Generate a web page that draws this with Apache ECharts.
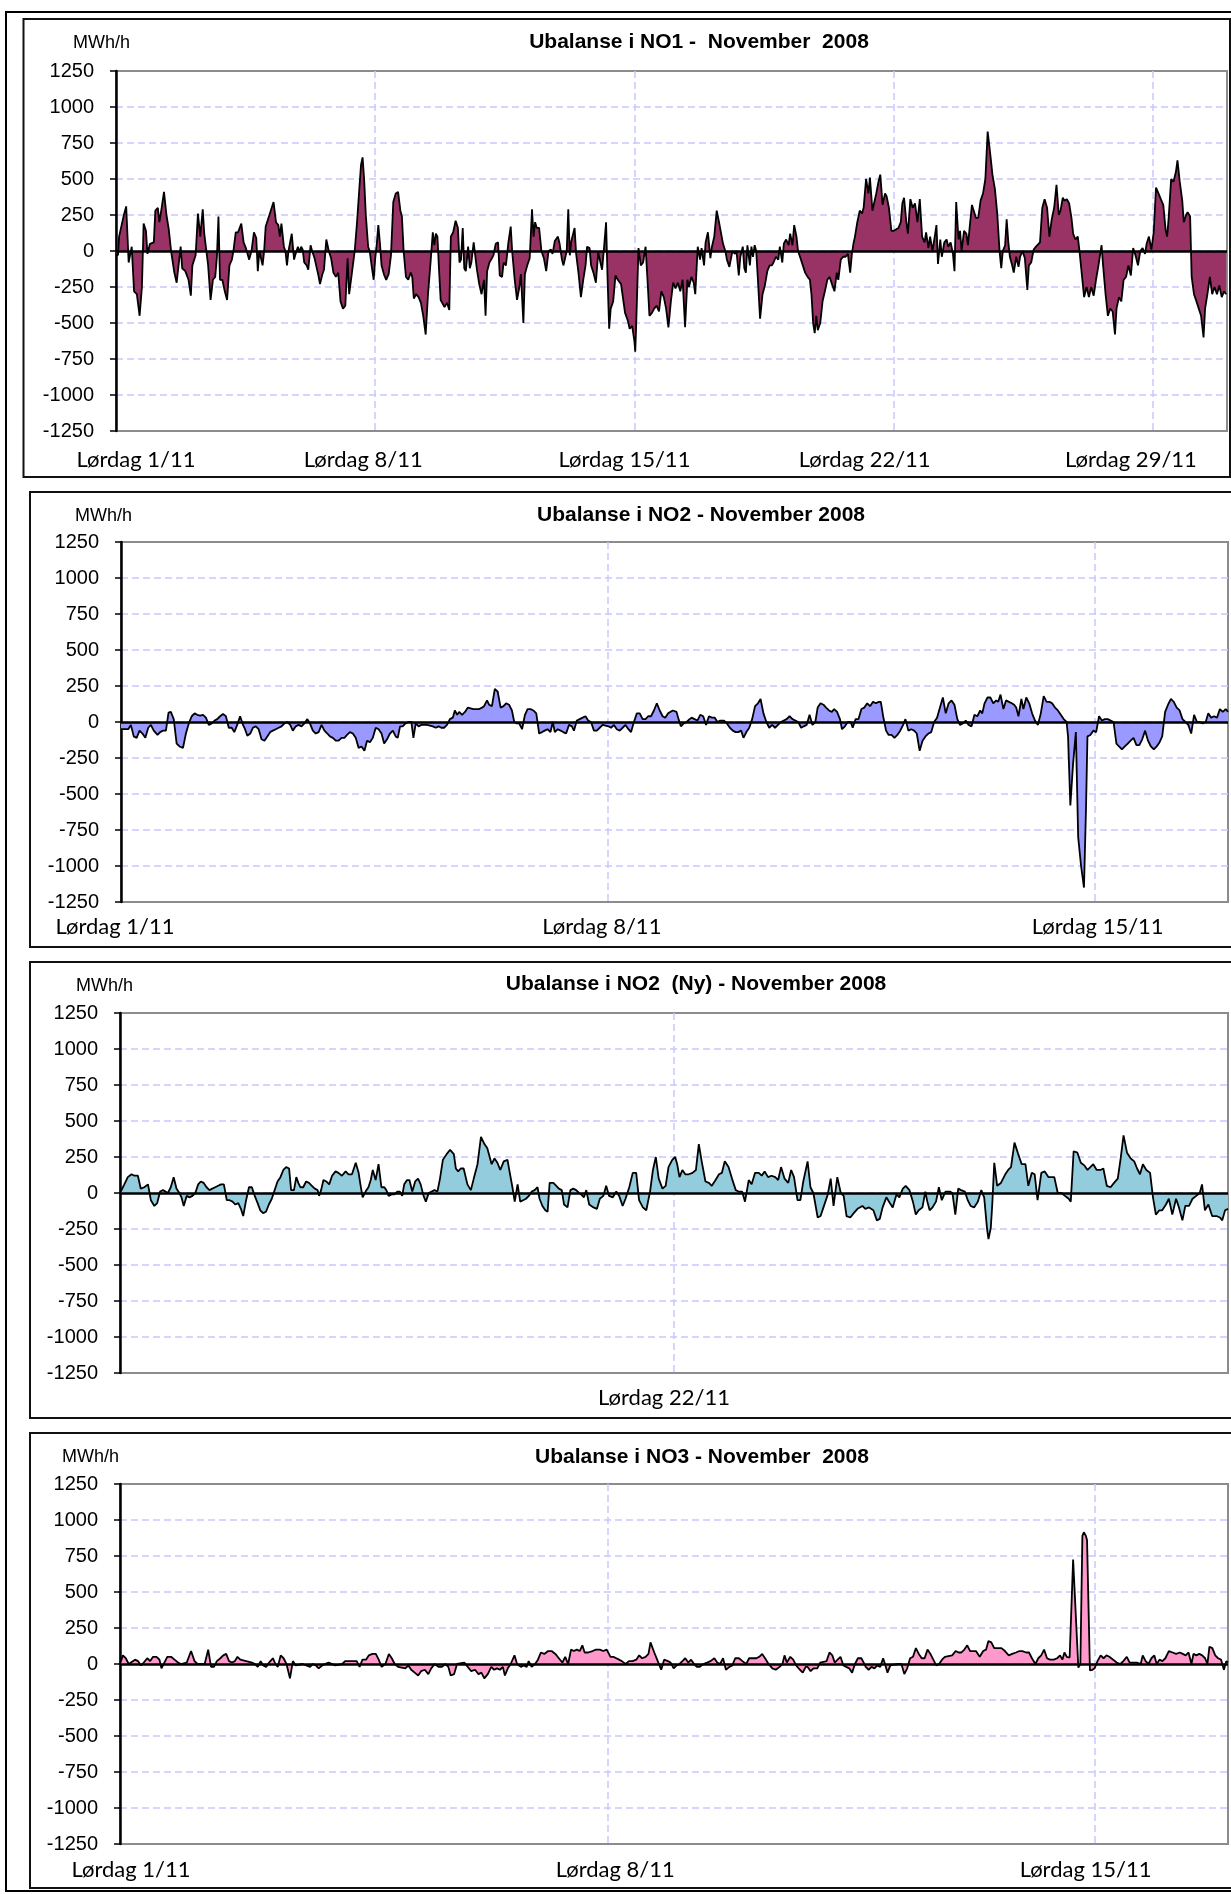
<!DOCTYPE html>
<html><head><meta charset="utf-8">
<script src="https://cdn.jsdelivr.net/npm/echarts@6/dist/echarts.min.js"></script>
<style>html,body{margin:0;padding:0;background:#fff}#c{width:1231px;height:1894px}</style>
</head><body><div id="c"></div>
<script>
// ---------- DATA (hour of period, MWh/h) ----------
const titleTexts = [
  'Ubalanse i NO1 -  November  2008',
  'Ubalanse i NO2 - November 2008',
  'Ubalanse i NO2  (Ny) - November 2008',
  'Ubalanse i NO3 - November  2008'
];
const unitText = 'MWh/h';
const yMin = -1250, yMax = 1250, yStep = 250;

const weekHours1 = [0, 168, 336, 504, 672];
const weekLabels1 = ['Lørdag 1/11', 'Lørdag 8/11', 'Lørdag 15/11', 'Lørdag 22/11', 'Lørdag 29/11'];
const weekHours2 = [0, 168, 336];
const weekLabels2 = ['Lørdag 1/11', 'Lørdag 8/11', 'Lørdag 15/11'];
const weekHours3 = [192];
const weekLabels3 = ['Lørdag 22/11'];
const weekHours4 = [0, 168, 336];
const weekLabels4 = ['Lørdag 1/11', 'Lørdag 8/11', 'Lørdag 15/11'];

const no1 = [[0,-20],[1.3,-30],[2,100],[5.1,250],[6.6,310],[7.7,320],[8.2,-80],[10.2,30],[11.7,-280],[13.5,-300],[15.3,-450],[16.8,-250],[17.9,190],[19.4,140],[20.4,-20],[22,50],[24.5,60],[25.5,280],[27.1,300],[28.1,200],[29.6,300],[31.1,410],[32.7,250],[34.2,150],[35.7,0],[37.8,-150],[39.3,-220],[40.3,-230],[41.9,30],[42.9,-120],[44.9,-140],[47,-200],[48.5,-310],[49.5,-100],[51.6,-30],[53.1,260],[54.6,100],[56.2,290],[57.2,120],[58.2,130],[59.7,-100],[61.3,-340],[62.8,-200],[64.3,-180],[65.4,-40],[66.4,240],[67.4,-200],[68.9,-200],[70.5,-280],[72,-340],[73.5,-100],[75.1,-60],[76.1,0],[77.6,130],[79.1,130],[81.2,190],[82.7,60],[84.2,20],[86.3,-60],[87.8,0],[89.4,130],[90.9,90],[91.9,-140],[92.9,0],[95,-100],[96,0],[97,170],[99.1,240],[100.6,290],[102.1,340],[103.7,200],[105.2,180],[106.2,100],[107.2,190],[108.8,30],[109.8,0],[110.8,-100],[111.8,0],[112.8,10],[113.9,120],[115.4,-60],[116.4,-20],[117.9,30],[119,-10],[120,30],[121,10],[122,-80],[123.6,-100],[124.6,-130],[126.1,40],[127.1,0],[128.7,-50],[129.7,-100],[131.2,-170],[132.2,-230],[133.8,-160],[134.8,-130],[136.3,80],[137.9,0],[139.4,-50],[140.9,-150],[142.5,-180],[144,-150],[145.5,-350],[147.1,-400],[148.6,-380],[150.1,-50],[151.1,-300],[152.2,-210],[153.2,-220],[154.7,0],[156.2,200],[157.8,450],[158.8,600],[159.8,650],[160.8,500],[161.9,250],[163.4,30],[164.4,0],[165.9,-120],[167,-200],[168,-50],[169,50],[170,180],[171,60],[172.1,-100],[173.6,-160],[175.1,-200],[176.7,-160],[178.2,-30],[179.7,340],[181.3,400],[182.8,410],[184.3,280],[185.3,240],[186.4,0],[187.9,-180],[189.4,-200],[191,-150],[192,-180],[193,-330],[194.5,-300],[196.1,-320],[197.6,-360],[199.1,-450],[200.7,-580],[202.2,-300],[203.7,-100],[205.3,130],[206.3,40],[207.3,120],[208.3,100],[209.3,-120],[210.4,-340],[211.4,-330],[212.9,-390],[214.5,-360],[216,-410],[217,100],[218.5,130],[220.1,210],[221.6,160],[222.6,-80],[223.6,-60],[224.7,160],[225.7,-120],[226.7,-140],[228.2,30],[229.3,-120],[230.3,-80],[231.8,60],[232.8,70],[233.9,-130],[235.4,-230],[236.9,-300],[238.5,-200],[239.5,-450],[240.5,-140],[242,-80],[243.6,-50],[244.6,-30],[246.1,50],[247.6,60],[248.7,-170],[250.2,-180],[251.2,-80],[252.7,-100],[254.3,60],[255.8,170],[256.8,-10],[258.4,-200],[259.9,-340],[261.4,-250],[262.4,-160],[264,-500],[265,-160],[266.5,-100],[268.1,-50],[269.6,290],[270.6,100],[271.6,200],[272.7,160],[274.2,160],[275.7,0],[277.3,-50],[278.8,-140],[280.3,0],[281.9,10],[282.9,-20],[284.4,70],[285.4,80],[286.4,100],[287.5,50],[289,-60],[290,-100],[291,-100],[292.1,0],[293.1,290],[294.1,-30],[295.1,70],[296.1,60],[297.2,160],[298.2,-20],[299.7,-150],[301.3,-320],[302.8,-200],[304.3,-100],[305.3,30],[306.9,20],[307.9,-100],[309.4,-150],[311,-220],[312.5,-10],[313.5,-20],[315,-130],[316.1,0],[317.6,200],[318.6,-200],[319.6,-540],[320.6,-400],[322.2,-350],[323.7,-170],[325.2,-200],[327.3,-230],[329.9,-430],[331.6,-480],[332.9,-540],[334.5,-520],[336,-630],[336.5,-700],[337,-550],[338.6,20],[340.1,-100],[341.6,-80],[343.2,30],[344.7,-250],[345.7,-450],[347.3,-430],[348.8,-400],[350.3,-380],[351.9,-420],[353.4,-280],[355,-320],[356.5,-400],[358,-530],[359.6,-350],[361.1,-220],[362.6,-260],[364.2,-220],[365.7,-280],[367.2,-200],[368.8,-530],[370.3,-200],[371.3,-250],[372.9,-180],[374.4,-220],[375.4,-300],[377,30],[378.5,-60],[379.5,20],[381.1,-100],[382.1,60],[383.6,130],[385.2,-50],[386.2,30],[387.7,100],[389.3,280],[390.8,200],[391.8,200],[393.4,50],[394.9,0],[395.9,-60],[397.5,-110],[398.5,-100],[399.5,0],[401.1,-20],[402.1,0],[403.6,-170],[404.6,-40],[406.2,30],[407.2,-120],[408.2,-150],[409.2,40],[410.8,-100],[411.8,30],[412.8,-40],[413.9,40],[414.9,0],[415.9,-180],[417.4,-470],[419,-300],[420.5,-240],[422.1,-140],[423.6,-100],[425.1,-100],[426.1,-80],[427.7,-40],[429.2,-60],[430.2,30],[431.8,-80],[432.8,50],[434.3,80],[435.9,40],[436.9,120],[438.4,40],[439.5,180],[441,100],[442,0],[443.6,-50],[445.1,-100],[446.6,-150],[448.2,-180],[449.7,-200],[450.7,-300],[451.8,-500],[452.8,-570],[453.8,-450],[454.8,-550],[456.4,-500],[457.9,-350],[459.4,-280],[461,-200],[462.5,-180],[464,-230],[465.6,-280],[467.1,-150],[468.1,-200],[469.7,-60],[471.2,-40],[472.8,-40],[474.3,-20],[475.8,-150],[476.9,-20],[477.9,50],[478.9,100],[480.4,200],[482,280],[483.5,260],[484.5,300],[486.1,500],[487.6,400],[488.6,510],[490.2,280],[491.2,290],[492.7,400],[494.3,490],[495.3,530],[496.8,320],[498.4,400],[499.4,380],[500.9,300],[502.5,140],[504,140],[505.5,150],[507.1,160],[508.6,200],[509.6,330],[510.7,370],[512.2,200],[513.2,120],[514.8,360],[516.3,300],[517.8,330],[519.4,200],[520.9,360],[522.4,100],[524,60],[525,130],[526.5,20],[527.6,100],[529.1,0],[530.6,100],[531.7,180],[532.7,-90],[534.2,80],[535.2,-40],[536.8,60],[538.3,80],[539.3,30],[540.9,60],[542.4,-20],[543.4,-140],[544.5,340],[546,80],[547,140],[548,0],[549.6,140],[551.1,120],[552.1,40],[553.2,160],[554.7,320],[555.7,330],[557.3,230],[558.8,230],[560.3,350],[561.9,400],[563.4,500],[564.9,830],[566.5,680],[568,530],[569.6,430],[571.1,260],[572.6,0],[573.7,-120],[574.7,0],[576.2,40],[577.2,220],[578.3,60],[579.3,-40],[580.8,-100],[581.8,-150],[583.4,-40],[584.9,-110],[585.9,-40],[587.5,0],[589,-50],[590.6,-270],[591.6,-100],[593.1,-80],[594.7,10],[596.2,30],[597.2,20],[598.8,60],[600.3,300],[601.8,360],[603.4,300],[604.9,100],[606.4,220],[608,300],[609.5,460],[611,250],[612.1,280],[613.6,370],[614.6,350],[616.2,360],[617.7,330],[619.2,230],[620.3,120],[621.8,80],[623.3,100],[624.4,0],[625.9,-160],[627.4,-320],[629,-250],[630.5,-320],[632,-250],[633.6,-310],[635.1,-200],[636.7,-100],[638.7,40],[639.7,-100],[641.3,-300],[642.8,-450],[644.3,-400],[645.9,-420],[647.4,-580],[648.4,-400],[650,-320],[651.5,-350],[653,-200],[654.6,-180],[656.1,-100],[657.7,-170],[659.2,20],[660.7,-30],[662.3,-100],[663.8,0],[665.3,20],[666.9,-20],[667.9,50],[669.4,100],[671,10],[672.5,130],[674,440],[675.6,400],[677.1,360],[678.7,320],[680.2,150],[681.2,100],[682.2,230],[683.8,500],[685.3,480],[686.9,550],[687.9,630],[689.4,480],[691,350],[692,200],[693.5,250],[694.5,270],[696.1,240],[697.1,-180],[698.6,-300],[700.2,-350],[701.7,-400],[703.2,-450],[704.8,-600],[705.8,-400],[707.3,-300],[708.9,-180],[710.4,-300],[711.9,-250],[713.5,-300],[715,-240],[716.6,-320],[718.1,-280],[719.5,-300]];

const no2 = [[0,-50],[1,-50],[2.5,-50],[3.4,-20],[4.4,-100],[5.4,-110],[6.4,-60],[7.4,-80],[8.4,-110],[9.4,-40],[10.3,-20],[11.3,-60],[12.6,-90],[13.5,-70],[14.5,-60],[15.5,-60],[16.4,65],[17.2,70],[18.2,20],[19.2,-150],[20.2,-170],[21.4,-180],[22.4,-80],[23.4,-10],[24.4,40],[25.4,60],[26.3,50],[27.3,45],[28.3,50],[29.3,30],[30.3,-20],[31.3,-10],[32.3,10],[33.2,20],[34.2,40],[35.2,55],[36.2,40],[37.2,-40],[38.2,-40],[39.1,-70],[40.1,-20],[41.1,40],[42.1,-20],[42.8,-50],[43.6,-95],[44.6,-80],[45.5,-40],[46.5,-30],[47.5,-50],[48.5,-120],[49.5,-130],[50.5,-100],[51.5,-70],[52.4,-60],[53.4,-50],[54.4,-40],[55.4,-30],[56.4,-10],[57.4,0],[58.4,-20],[59.3,-60],[60.3,-30],[61.3,-20],[62.3,-30],[63.3,-10],[64.3,20],[65.2,-10],[66.2,-60],[67.2,-80],[68.2,-70],[69.2,-20],[70.2,-60],[71.2,-80],[72.1,-100],[73.1,-110],[74.1,-130],[75.1,-130],[76.1,-110],[77.1,-110],[78,-90],[79,-70],[80,-80],[81,-110],[82,-180],[83,-170],[84,-200],[84.9,-130],[85.9,-140],[86.9,-110],[87.9,-40],[88.9,-50],[89.9,-80],[90.8,-150],[91.8,-120],[92.8,-80],[93.8,-60],[94.8,-100],[95.5,-110],[96.3,-30],[97.2,-30],[98.2,-10],[99.2,0],[100.2,0],[100.9,-110],[101.7,-10],[102.7,-30],[103.7,-20],[105.6,-20],[107.6,-30],[108.6,-40],[109.6,-30],[110.5,-40],[111.5,-40],[112.5,-20],[113.5,20],[114.5,30],[115.2,80],[116,50],[116.7,70],[117.7,50],[118.7,70],[119.7,100],[121.6,90],[123.6,90],[124.6,100],[125.3,110],[126.3,150],[127,120],[128,110],[129,230],[130,210],[131,100],[132,110],[132.9,130],[133.9,120],[134.9,80],[135.7,0],[136.6,-10],[137.4,-10],[138.4,-50],[139.4,50],[140.3,90],[141.3,90],[142.3,80],[143.3,60],[144.3,-80],[145.3,-70],[146.2,-60],[147.2,-50],[148.2,-70],[149,0],[149.7,-70],[150.7,-50],[151.7,-60],[152.6,-70],[153.6,-80],[154.6,-20],[155.6,-30],[156.3,-60],[157.3,10],[158.3,20],[159.3,30],[160.3,40],[161.2,10],[162.2,0],[163.2,-60],[164.2,-60],[165.2,-40],[166.2,-20],[168.2,-30],[169.1,-40],[170.1,-20],[171.1,-50],[172.1,-60],[173.1,-40],[174.1,-20],[175.1,-50],[176,-70],[177,0],[178,60],[179,60],[180,20],[181,20],[181.9,40],[182.9,40],[183.9,80],[184.9,130],[185.9,80],[186.9,40],[187.8,30],[188.8,60],[189.4,70],[190.4,80],[191.7,70],[192.4,20],[193.2,-30],[194.2,-10],[195.2,0],[196.2,20],[196.9,30],[197.9,20],[198.9,10],[199.9,50],[200.9,40],[201.9,-20],[202.9,40],[203.9,30],[204.9,30],[205.8,0],[206.8,10],[208.1,10],[209.1,-10],[210.1,-40],[211.1,-60],[212.1,-70],[213,-70],[214,-60],[214.8,-110],[215.8,-70],[216.8,-40],[217.8,20],[218.8,110],[219.8,130],[220.7,160],[221.7,60],[222.7,0],[223.7,-40],[224.7,-20],[225.7,-40],[226.7,-20],[227.7,0],[228.7,10],[229.7,20],[230.7,40],[231.7,20],[232.7,10],[233.7,0],[234.7,-40],[235.6,-30],[236.6,-20],[237.6,50],[238.6,-20],[239.6,0],[240.4,100],[241.4,130],[242.4,120],[243.3,100],[244.3,80],[245.3,70],[246.1,90],[247.1,70],[248.1,20],[248.8,-50],[249.8,-30],[250.8,0],[251.8,0],[252.5,-40],[253.5,20],[254.5,20],[255.5,90],[256.5,100],[257.5,130],[258.5,110],[259.5,140],[260.5,130],[261.5,140],[262.2,140],[263,40],[264,-60],[264.9,-90],[265.9,-90],[266.9,-110],[267.9,-90],[268.9,-60],[269.9,-20],[270.7,20],[271.7,-60],[272.7,-50],[273.7,-60],[274.6,-80],[275.6,-200],[276.6,-130],[277.6,-100],[278.6,-80],[279.6,-70],[280.6,0],[281.6,30],[282.6,100],[283.6,170],[284.6,60],[285.6,130],[286.6,150],[287.6,120],[288.6,20],[289.5,-20],[290.5,-10],[291.5,10],[292.5,-20],[293.5,-30],[294.5,50],[295.5,40],[296.5,80],[297.2,60],[298,130],[299,170],[300,170],[301,130],[302,150],[302.7,140],[303.5,190],[304.5,90],[305.4,150],[306.4,140],[307.4,130],[308.2,120],[308.9,100],[309.7,40],[310.7,160],[311.4,90],[312.4,170],[313.4,130],[314.4,60],[315.4,10],[316.4,-20],[317.4,60],[318.4,180],[319.4,140],[320.4,140],[321.3,130],[322.3,100],[323.3,80],[324.3,50],[325.3,20],[326.3,0],[326.8,-100],[327.6,-580],[328.5,-300],[329.5,-70],[330.3,-800],[331.3,-1000],[332.3,-1150],[333,-600],[333.5,-100],[334.5,-90],[335.5,-60],[336.5,-70],[337.5,40],[338.5,10],[339.5,20],[340.5,20],[341.5,10],[342.5,0],[343.5,-150],[344.4,-170],[345.4,-190],[346.4,-170],[347.4,-150],[348.4,-130],[349.4,-110],[350.4,-160],[351.4,-160],[352.4,-120],[353.4,-60],[354.4,-130],[355.4,-170],[356.4,-190],[357.4,-170],[358.4,-140],[359.3,-100],[360.3,70],[361.3,120],[362.3,160],[363.3,140],[364.3,100],[365.3,80],[366.3,20],[367.3,0],[368.3,-20],[369.3,-80],[370.3,50],[371.3,0],[372.3,0],[373.3,-10],[374.3,0],[375.2,60],[376.2,30],[377.2,40],[378.2,30],[379.2,90],[380.2,70],[381.2,90],[382,70]];

const no2ny = [[0,0],[1.5,60],[2.7,110],[4,130],[5,120],[6.2,120],[7.2,30],[8.4,40],[9.7,60],[10.7,-50],[11.9,-90],[12.9,-70],[13.9,10],[14.9,20],[16.6,0],[17.6,40],[18.6,110],[19.6,30],[20.6,0],[21.3,-30],[22.1,-90],[23.1,-20],[24.1,-30],[25.1,-20],[26.1,0],[27.1,60],[28,80],[29,70],[30,40],[31,20],[32,30],[33,40],[34,50],[35,60],[36,60],[37,-50],[38,-50],[39,-60],[40,-80],[41,-70],[41.9,-110],[42.7,-160],[43.7,-50],[44.7,40],[45.7,40],[46.7,-20],[47.7,-70],[48.6,-120],[49.6,-140],[50.6,-130],[51.6,-80],[52.6,-40],[53.6,20],[54.6,80],[55.6,110],[56.6,160],[57.6,180],[58.6,170],[59.3,20],[60.3,20],[61.1,110],[61.8,70],[62.5,40],[63.5,40],[64.5,80],[65.5,70],[66.5,50],[67.5,30],[68.5,20],[69,-20],[69.7,20],[70.5,90],[71.5,80],[72.5,60],[73.5,120],[74.7,150],[75.7,140],[76.9,120],[78.2,150],[79.2,130],[80.4,130],[81.7,210],[82.7,140],[83.4,50],[84.1,-30],[85.1,10],[86.1,40],[86.9,90],[87.6,160],[88.6,90],[89.6,200],[90.6,40],[91.6,40],[92.3,20],[93.1,-20],[94.1,-10],[95.1,-10],[96.1,10],[97,10],[97.8,-20],[98.5,60],[99.5,90],[100.3,90],[101.3,10],[102.3,80],[103.3,100],[104.2,60],[105.2,-20],[106,-60],[107,0],[109,20],[110,10],[110.9,100],[111.9,230],[113.2,270],[114.4,300],[115.7,270],[116.4,170],[117.2,150],[118.1,170],[119.1,170],[120.4,60],[121.6,20],[122.6,100],[123.9,200],[125.1,390],[126.3,340],[127.3,310],[128.8,200],[129.8,240],[130.8,210],[131.8,160],[133,220],[134.3,230],[135,150],[136,40],[136.8,-60],[137.8,60],[138.7,-60],[139.7,-50],[140.7,-40],[141.7,-20],[142.7,10],[143.7,20],[144.7,40],[145.4,-40],[146.4,-90],[147.4,-120],[148.2,-130],[148.9,70],[150.2,70],[151.2,50],[152.1,30],[153.1,20],[153.9,-80],[155.1,-100],[156.1,20],[157.1,30],[158.1,20],[159.1,0],[159.8,-10],[160.8,-30],[161.6,20],[162.6,-80],[164.1,-100],[165.3,-110],[166.3,-40],[167.5,-20],[168.5,50],[169.5,-20],[170.8,-30],[172,10],[173,-20],[174.2,-90],[175.2,-40],[176.5,40],[177.7,140],[178.9,140],[179.9,-50],[181.2,-100],[182.4,-120],[183.7,10],[184.7,160],[185.7,250],[186.7,100],[188,30],[189.1,50],[190.1,180],[191.4,230],[192.4,250],[193.1,200],[193.9,110],[194.9,160],[195.9,130],[197.1,130],[198.4,140],[199.6,160],[200.6,340],[201.6,220],[202.9,80],[204.1,70],[205.1,50],[206.4,90],[207.6,130],[208.6,140],[209.6,220],[210.9,180],[212.1,100],[213.4,20],[214.4,10],[215.6,10],[216.6,-60],[217.9,90],[218.9,60],[220.1,140],[221.4,140],[222.4,120],[223.4,150],[224.6,110],[225.8,120],[227.1,110],[228.1,90],[229.1,180],[230.3,100],[231.6,70],[232.6,160],[233.6,110],[234.8,-50],[235.8,-50],[236.8,80],[238.3,220],[239.3,40],[240.3,0],[241.8,-170],[242.8,-160],[243.8,-100],[245.3,-10],[246.3,100],[247.3,-90],[248.6,110],[249.8,0],[250.8,-20],[251.8,-160],[253.1,-170],[254.3,-140],[255.6,-110],[257.3,-90],[258.3,-110],[259.6,-100],[261.1,-120],[262.3,-190],[263.3,-180],[264.3,-100],[265.6,-30],[266.8,-70],[267.8,-100],[269.1,-10],[270.1,-30],[271.3,30],[272.3,50],[273.6,20],[274.8,-60],[275.8,-150],[276.8,-120],[278.1,-100],[279.1,10],[279.8,-60],[280.6,-120],[281.6,-100],[282.8,-60],[283.8,40],[284.8,-50],[286.1,10],[287.6,10],[288.5,0],[289.5,-150],[290.5,30],[291.5,20],[292.8,10],[293.8,-50],[294.8,-90],[296,-100],[297.3,-60],[298.5,20],[299.5,-30],[300.5,-250],[301,-320],[301.8,-240],[302.3,-80],[303,210],[304,50],[305.3,70],[306.8,130],[307.8,160],[308.8,180],[310,350],[311.3,270],[312.5,200],[313.8,200],[314.8,50],[316,140],[317,130],[318,-50],[319.3,140],[320.5,150],[321.8,110],[323.8,110],[325,0],[326.3,0],[327.5,-20],[328.8,-40],[329.5,-60],[330.5,290],[331.8,280],[333,210],[334.3,190],[335.3,160],[336.3,180],[337.3,200],[338.5,160],[339.8,160],[340.8,170],[342,50],[343.3,40],[344.5,70],[345.8,100],[346.8,240],[347.8,400],[349,280],[350.3,240],[351.5,220],[352.5,170],[353.5,130],[354.5,200],[355.7,160],[357,140],[358,-30],[359,-150],[360.2,-120],[361.2,-120],[362.5,-80],[363.5,-40],[364.7,-150],[366,-40],[367,-100],[368.2,-190],[369.2,-90],[370.5,-90],[371.7,-40],[373,-20],[374.2,0],[375,60],[376,-120],[377.2,-80],[378.5,-160],[380,-160],[381.2,-170],[382,-190],[383,-120],[384,-110]];

const no3 = [[0,0],[1,60],[2,40],[3,0],[5.2,30],[6.2,20],[7.2,-10],[8.2,10],[9.4,40],[10.4,20],[11.4,50],[12.6,50],[13.6,30],[14.3,-30],[15.3,10],[16.3,50],[17.6,50],[18.8,30],[20,10],[21,0],[23,10],[24.5,90],[25.7,20],[26.7,0],[29.2,0],[30.4,100],[31.4,-20],[32.4,-20],[33.4,20],[34.6,40],[35.6,60],[36.6,70],[37.6,20],[38.6,10],[39.6,20],[40.5,50],[41.5,30],[43.5,20],[45.5,10],[46.5,0],[47.5,-20],[48.5,20],[49.4,-10],[50.4,-20],[51.4,10],[52.7,40],[53.6,0],[54.4,-20],[55.4,60],[56.4,40],[57.4,0],[58.6,-100],[59.6,20],[60.6,-10],[63,0],[65.5,-20],[66.5,0],[67.5,-10],[68.5,-30],[69.7,-10],[71.9,10],[74.2,-10],[76.6,0],[77.6,20],[81.6,20],[82.6,-20],[83.6,30],[84.8,30],[85.8,60],[87,70],[88.2,70],[89.2,30],[90.2,-20],[91.5,0],[92.7,70],[93.7,40],[94.7,0],[95.9,-20],[98.4,-30],[99.4,-10],[100.4,-40],[101.6,-60],[102.8,-80],[103.8,-50],[105.1,-40],[106.3,-70],[107.3,-30],[108.5,0],[109.8,-20],[111,-20],[112.2,0],[113.2,-20],[114,-80],[115.2,-70],[116.2,0],[118.7,10],[119.9,-20],[121.1,-50],[122.4,-40],[123.6,-70],[124.6,-60],[125.6,-100],[126.8,-70],[128,-20],[129,-40],[130,-30],[131,-40],[132,-20],[132.7,-80],[133.7,-30],[134.7,0],[136,60],[136.9,0],[138.2,-20],[139.2,-10],[140.2,-20],[140.9,20],[141.9,-20],[143.1,0],[144.1,30],[145.1,80],[146.3,70],[147.6,90],[148.8,90],[150.1,70],[151.3,40],[152.5,10],[153.5,50],[154.5,0],[155.5,100],[156.5,90],[157.5,100],[158.5,90],[159.4,130],[160.2,80],[161.4,80],[162.9,90],[164.1,100],[165.4,100],[166.6,90],[167.8,100],[169.1,50],[170.1,50],[171.1,40],[172.1,30],[173,20],[174.3,0],[175.5,20],[176.7,20],[178,30],[179,60],[180,40],[181.2,50],[182.2,70],[182.9,150],[184.2,80],[185.4,20],[186.6,-40],[187.6,30],[188.9,20],[189.8,10],[190.9,-30],[191.9,-10],[192.9,0],[193.9,20],[194.9,40],[195.9,10],[196.9,30],[197.9,0],[198.9,-20],[199.9,-20],[201.1,0],[202.4,10],[203.6,20],[204.9,40],[205.9,10],[206.9,0],[207.9,40],[208.9,-40],[210.1,-20],[211.1,-10],[212.1,40],[213.4,40],[214.6,20],[215.9,0],[216.9,40],[219.4,40],[220.4,50],[221.4,70],[222.4,40],[223.6,0],[224.9,-30],[226.1,-40],[227.4,-20],[228.4,0],[229.1,60],[229.9,10],[231.1,50],[232.1,30],[233.1,-10],[234.4,-40],[235.4,-60],[236.4,-20],[237.1,-20],[238.1,-50],[239.1,-30],[240.4,-30],[241.4,10],[243.6,20],[244.6,80],[245.6,60],[246.4,10],[247.4,30],[248.4,50],[249.4,-10],[251.4,-30],[252.4,-60],[253.4,0],[254.4,40],[255.6,40],[256.4,10],[257.1,-20],[258.1,-40],[259.1,-20],[260.1,-30],[261.1,-10],[262.1,-20],[263.1,40],[263.9,-10],[264.6,-60],[265.6,-10],[268.1,0],[269.4,0],[270.4,-70],[271.4,-30],[272.4,40],[273.4,50],[274.4,110],[275.4,70],[276.4,40],[277.4,40],[278.4,100],[279.4,70],[280.4,30],[281.4,-10],[282.4,0],[283.4,30],[284.4,50],[286.9,60],[288.1,90],[289.1,80],[290.1,80],[291.1,100],[292.1,130],[293.1,90],[295.1,90],[296.4,50],[297.6,90],[298.6,100],[299.4,160],[300.4,150],[301.4,110],[303.9,110],[305.1,90],[306.4,60],[307.6,70],[308.9,80],[310.1,90],[311.1,90],[312.4,80],[313.4,80],[314.4,40],[315.6,0],[316.6,40],[317.6,60],[318.6,100],[319.6,40],[320.6,30],[321.9,30],[323.1,40],[324.1,60],[324.9,30],[325.6,80],[326.4,50],[327.4,45],[328.6,725],[330.4,-25],[331.1,0],[331.8,890],[332.3,915],[333,890],[333.4,860],[334.4,-45],[335.3,-40],[336,-30],[337,20],[338.1,60],[339.1,40],[340.1,60],[341.1,50],[342.4,30],[343.6,10],[344.9,0],[345.9,20],[347.1,50],[348.1,10],[350.6,10],[351.9,0],[352.6,60],[353.6,20],[354.6,0],[355.6,40],[356.6,60],[357.4,0],[358.4,30],[359.4,20],[360.4,40],[361.6,90],[362.9,80],[364.1,70],[365.4,80],[366.4,70],[367.4,60],[368.4,80],[369.4,0],[370.1,70],[371.1,60],[372.1,70],[373.1,60],[374.1,40],[374.9,0],[375.6,120],[376.6,110],[377.6,60],[378.6,40],[379.6,30],[380.6,-40],[381.4,20],[382,10]];

// ---------- LAYOUT / STYLE ----------
const FONT = '"Liberation Sans", Arial, sans-serif';
const LABEL_FONT = 'Lato, "Open Sans", sans-serif';
const gridColor = '#c8c8ff';

const panels = [
  { data: no1, color: '#993366', hours: weekHours1, labels: weekLabels1, max: 720, interval: 168,
    grid: {left: 116, top: 71, width: 1111, height: 360}, labelMargin: 18,
    shifts: [20, -12, -10, -29, -22],
    frame: [23.5, 19, 1206.5, 458], title: [699, 32], unit: [73, 34] },
  { data: no2, color: '#9999ff', hours: weekHours2, labels: weekLabels2, max: 382, interval: 168,
    grid: {left: 121, top: 542, width: 1107, height: 360}, labelMargin: 14,
    shifts: [-6, -6, 3],
    frame: [30, 492, 1203, 455], title: [701, 505], unit: [75, 507] },
  { data: no2ny, color: '#93cddd', hours: weekHours3, labels: weekLabels3, max: 384, interval: 192,
    grid: {left: 120, top: 1013, width: 1108, height: 360}, labelMargin: 14,
    shifts: [-10],
    frame: [30, 962, 1203, 456], title: [696, 974], unit: [76, 977] },
  { data: no3, color: '#ff99cc', hours: weekHours4, labels: weekLabels4, max: 382, interval: 168,
    grid: {left: 120, top: 1484, width: 1108, height: 360}, labelMargin: 15,
    shifts: [11, 8, -9],
    frame: [30, 1433, 1203, 455], title: [702, 1447], unit: [62, 1448] }
];

const option = {
  animation: false,
  backgroundColor: '#fff',
  title: [],
  grid: [], xAxis: [], yAxis: [], series: [],
  graphic: [{
    type: 'rect', shape: {x: 6, y: 12, width: 1240, height: 1879},
    style: {fill: 'none', stroke: '#000', lineWidth: 2}, silent: true
  }]
};

panels.forEach((p, i) => {
  option.grid.push(Object.assign({show: true, borderColor: '#8c8c8c', borderWidth: 2, backgroundColor: 'transparent'}, p.grid));
  const rich = {};
  p.shifts.forEach((d, k) => {
    rich['s' + k] = {
      fontFamily: LABEL_FONT, fontSize: 22, color: '#000',
      padding: d >= 0 ? [0, 0, 0, 2 * d] : [0, -2 * d, 0, 0]
    };
  });
  option.xAxis.push({
    type: 'value', gridIndex: i, min: 0, max: p.max, interval: p.interval,
    axisLine: {show: false, onZero: false},
    axisTick: {show: false},
    splitLine: {show: true, showMinLine: false, showMaxLine: false,
      lineStyle: {color: gridColor, type: [7, 4], width: 1.5}},
    axisLabel: {
      margin: p.labelMargin, fontFamily: LABEL_FONT, fontSize: 22, color: '#000',
      showMinLabel: true, showMaxLabel: true,
      formatter: (v) => {
        const k = p.hours.indexOf(v);
        return k < 0 ? '' : '{s' + k + '|' + p.labels[k] + '}';
      },
      rich: rich
    }
  });
  option.yAxis.push({
    type: 'value', gridIndex: i, min: yMin, max: yMax, interval: yStep,
    axisLine: {show: true, onZero: false, lineStyle: {color: '#000', width: 2.5}},
    axisTick: {show: true, length: 6, lineStyle: {color: '#000', width: 1.5}},
    axisLabel: {margin: 22, fontFamily: FONT, fontSize: 20, color: '#000',
      formatter: (v) => String(v)},
    splitLine: {show: true, showMinLine: false, showMaxLine: false,
      lineStyle: {color: gridColor, type: [7, 4], width: 1.5}}
  });
  option.series.push({
    type: 'line', xAxisIndex: i, yAxisIndex: i, data: p.data,
    symbol: 'none', smooth: false, silent: true,
    lineStyle: {color: '#000', width: 1.8},
    areaStyle: {color: p.color, opacity: 1, origin: 0},
    markLine: {
      silent: true, symbol: ['none', 'none'], label: {show: false},
      lineStyle: {color: '#000', width: 2.5, type: 'solid'},
      data: [{yAxis: 0}], animation: false
    }
  });
  option.title.push({
    text: titleTexts[i], left: p.title[0], top: p.title[1], textAlign: 'center', padding: 0,
    textStyle: {fontFamily: FONT, fontWeight: 'bold', fontSize: 21, color: '#000'}
  });
  option.title.push({
    text: unitText, left: p.unit[0], top: p.unit[1], padding: 0,
    textStyle: {fontFamily: FONT, fontWeight: 'normal', fontSize: 18, color: '#000'}
  });
  option.graphic.push({
    type: 'rect', shape: {x: p.frame[0], y: p.frame[1], width: p.frame[2], height: p.frame[3]},
    style: {fill: 'none', stroke: '#111', lineWidth: 2}, silent: true
  });
});

const chart = echarts.init(document.getElementById('c'), null, {renderer: 'canvas', width: 1231, height: 1894});
chart.setOption(option);
</script>
</body></html>
